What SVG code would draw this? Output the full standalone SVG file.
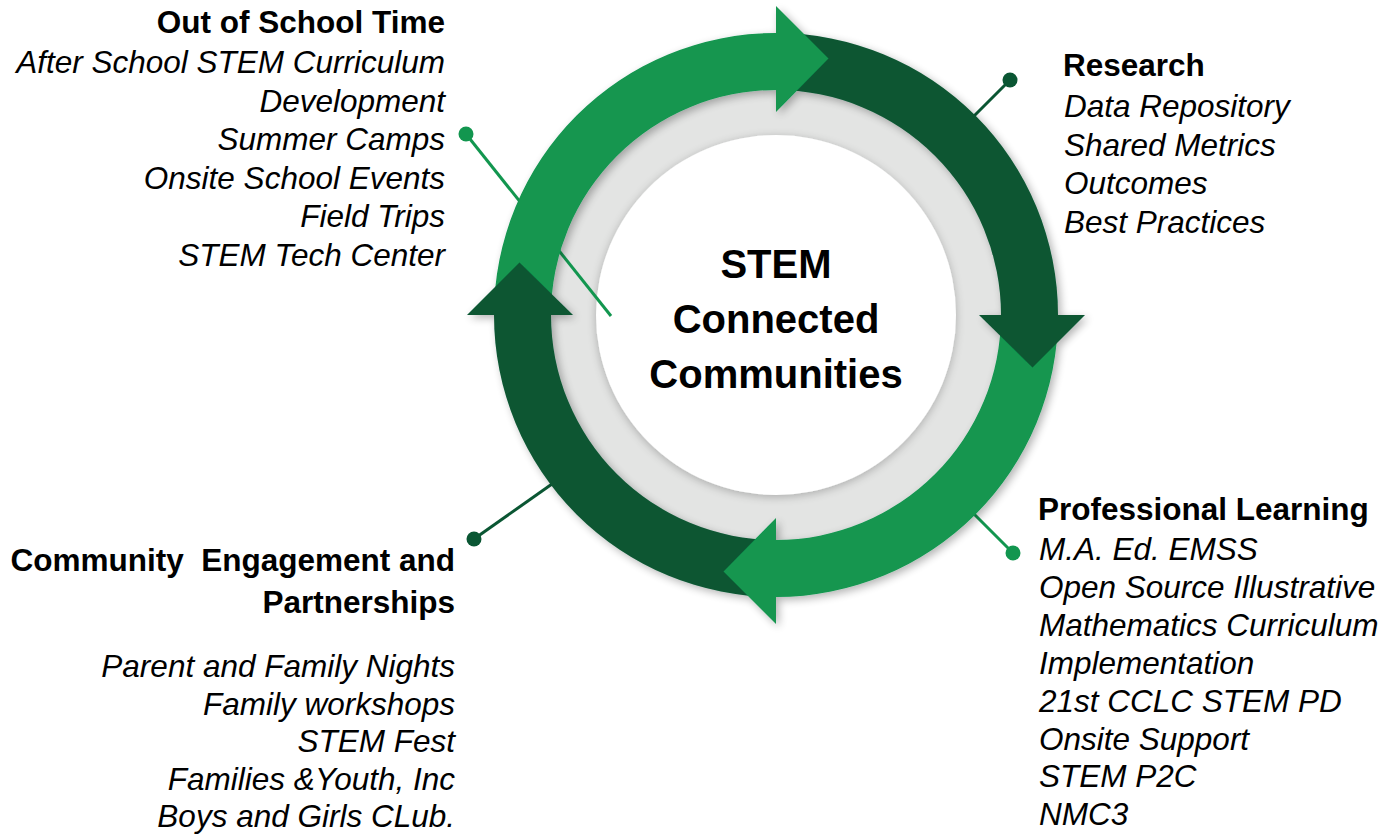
<svg xmlns="http://www.w3.org/2000/svg" width="1384" height="837" viewBox="0 0 1384 837">
<style>
text{font-family:"Liberation Sans",Arial,sans-serif;fill:#000}
.t{font-size:31.5px;font-weight:bold}
.i{font-size:31.5px;font-style:italic}
.c{font-size:40px;font-weight:bold;text-anchor:middle}
.e{text-anchor:end}
.lg{fill:#12964F}
.dg{fill:#0A5633}
.ll{stroke:#12964F;stroke-width:3;fill:none}
.dl{stroke:#0A5633;stroke-width:3;fill:none}
</style>
<defs>
<filter id="sh" x="-20%" y="-20%" width="140%" height="140%">
<feGaussianBlur in="SourceAlpha" stdDeviation="5"/>
<feOffset dx="0" dy="2"/>
<feComponentTransfer><feFuncA type="linear" slope="0.25"/></feComponentTransfer>
<feMerge><feMergeNode/><feMergeNode in="SourceGraphic"/></feMerge>
</filter>
<filter id="sh2" x="-20%" y="-20%" width="140%" height="140%">
<feGaussianBlur in="SourceAlpha" stdDeviation="4"/>
<feOffset dx="3" dy="3"/>
<feComponentTransfer><feFuncA type="linear" slope="0.3"/></feComponentTransfer>
<feMerge><feMergeNode/><feMergeNode in="SourceGraphic"/></feMerge>
</filter>
</defs>
<rect width="1384" height="837" fill="#fff"/>
<g id="hub">
<circle cx="776" cy="315" r="227" fill="#E3E4E3"/>
<circle cx="776" cy="315" r="180" fill="#fff" filter="url(#sh)"/>
</g>
<g id="connectors">
<line class="ll" x1="466" y1="134" x2="611" y2="316"/>
<line class="dl" x1="1010" y1="80" x2="970" y2="120"/>
<line class="ll" x1="1013" y1="553" x2="970" y2="510"/>
<line class="dl" x1="474" y1="539" x2="552" y2="484"/>
<circle class="lg" cx="466" cy="134" r="7.5"/>
<circle class="dg" cx="1010" cy="80" r="7.5"/>
<circle class="lg" cx="1013" cy="553" r="7.5"/>
<circle class="dg" cx="474" cy="539" r="7.5"/>
</g>
<g id="cycle" filter="url(#sh2)">
<path class="lg" d="M494,315 A282,282 0 0 1 776,33 L776,90 A225,225 0 0 0 551,315 Z"/>
<path class="dg" d="M776,33 A282,282 0 0 1 1058,315 L1001,315 A225,225 0 0 0 776,90 Z"/>
<path class="lg" d="M1058,315 A282,282 0 0 1 776,597 L776,540 A225,225 0 0 0 1001,315 Z"/>
<path class="dg" d="M776,597 A282,282 0 0 1 494,315 L551,315 A225,225 0 0 0 776,540 Z"/>
<path class="lg" d="M776,6 L828.5,58.5 L776,112 Z"/>
<path class="dg" d="M1085,315 L1032.5,367.5 L979,315 Z"/>
<path class="lg" d="M776,624 L723.5,571.5 L776,518 Z"/>
<path class="dg" d="M467,315 L519.5,262.5 L573,315 Z"/>
</g>
<g id="center">
<text class="c" x="776" y="277.5">STEM</text>
<text class="c" x="776" y="332.5">Connected</text>
<text class="c" x="776" y="387.5">Communities</text>
</g>
<g id="out-of-school-time">
<text class="t e" x="445" y="33">Out of School Time</text>
<text class="i e" x="445" y="73">After School STEM Curriculum</text>
<text class="i e" x="445" y="111.5">Development</text>
<text class="i e" x="445" y="150">Summer Camps</text>
<text class="i e" x="445" y="188.5">Onsite School Events</text>
<text class="i e" x="445" y="227">Field Trips</text>
<text class="i e" x="445" y="265.5">STEM Tech Center</text>
</g>
<g id="research">
<text class="t" x="1063" y="76">Research</text>
<text class="i" x="1064" y="117">Data Repository</text>
<text class="i" x="1064" y="155.5">Shared Metrics</text>
<text class="i" x="1064" y="194">Outcomes</text>
<text class="i" x="1064" y="232.5">Best Practices</text>
</g>
<g id="professional-learning">
<text class="t" x="1038" y="520">Professional Learning</text>
<text class="i" x="1039" y="559.5">M.A. Ed. EMSS</text>
<text class="i" x="1039" y="597.5">Open Source Illustrative</text>
<text class="i" x="1039" y="635.5">Mathematics Curriculum</text>
<text class="i" x="1039" y="673.5">Implementation</text>
<text class="i" x="1039" y="711.5">21st CCLC STEM PD</text>
<text class="i" x="1039" y="749.5">Onsite Support</text>
<text class="i" x="1039" y="787">STEM P2C</text>
<text class="i" x="1039" y="825">NMC3</text>
</g>
<g id="community-engagement">
<text class="t e" x="455" y="571" xml:space="preserve">Community  Engagement and</text>
<text class="t e" x="455" y="613">Partnerships</text>
<text class="i e" x="455" y="677">Parent and Family Nights</text>
<text class="i e" x="455" y="714.5">Family workshops</text>
<text class="i e" x="455" y="752">STEM Fest</text>
<text class="i e" x="455" y="789.5">Families &amp;Youth, Inc</text>
<text class="i e" x="455" y="827">Boys and Girls CLub.</text>
</g>
</svg>
